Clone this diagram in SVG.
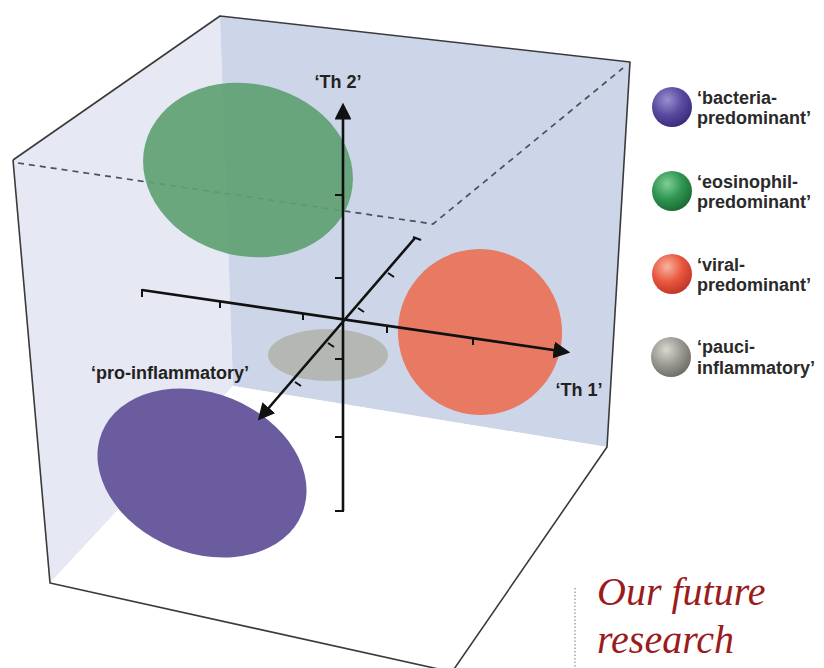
<svg xmlns="http://www.w3.org/2000/svg" width="824" height="668" viewBox="0 0 824 668">
<defs>
<style>
.edge{fill:none;stroke:#3a3a3a;stroke-width:1.6;stroke-linejoin:round}
.dash{fill:none;stroke:#4c505a;stroke-width:1.7;stroke-dasharray:6 5}
.axis{fill:none;stroke:#111;stroke-width:2.6}
.tick{fill:none;stroke:#111;stroke-width:2}
.lbl{font-family:"Liberation Sans",Arial,sans-serif;font-weight:bold;font-size:18px;fill:#222}
.leg{font-family:"Liberation Sans",Arial,sans-serif;font-weight:bold;font-size:18px;fill:#2a2a2a}
.title{font-family:"Liberation Serif","Times New Roman",serif;font-style:italic;font-size:40px;fill:#9a1c1c}
</style>
<marker id="arr" viewBox="0 0 10 10" refX="8" refY="5" markerWidth="6.5" markerHeight="6.5" markerUnits="strokeWidth" orient="auto">
<path d="M0,0 L10,5 L0,10 z" fill="#111"/>
</marker>
<radialGradient id="gPur" cx="0.38" cy="0.32" r="0.7"><stop offset="0" stop-color="#9a8fd0"/><stop offset="0.55" stop-color="#5a4aa0"/><stop offset="1" stop-color="#3a2c7a"/></radialGradient>
<radialGradient id="gGrn" cx="0.38" cy="0.32" r="0.7"><stop offset="0" stop-color="#7fcf96"/><stop offset="0.55" stop-color="#2f9650"/><stop offset="1" stop-color="#1c6a36"/></radialGradient>
<radialGradient id="gRed" cx="0.38" cy="0.32" r="0.7"><stop offset="0" stop-color="#f8b4a0"/><stop offset="0.55" stop-color="#e8573f"/><stop offset="1" stop-color="#c23628"/></radialGradient>
<radialGradient id="gGry" cx="0.38" cy="0.32" r="0.7"><stop offset="0" stop-color="#d8d7d0"/><stop offset="0.55" stop-color="#9b9a92"/><stop offset="1" stop-color="#6e6d66"/></radialGradient>
</defs>
<rect width="824" height="668" fill="#ffffff"/>

<g id="cube">
<polygon points="13,160 220,16 233,386 50,583" fill="#e6e9f3"/>
<polygon points="220,16 630,62 607,447 233,386" fill="#cdd5e8"/>
<polygon points="233,386 607,447 452,672 50,583" fill="#ffffff"/>
<polyline class="edge" points="13,160 220,16 630,62 607,447 452,672"/>
<polyline class="edge" points="13,160 50,583 452,672"/>
<polyline class="dash" points="18,163 433,224 623,68"/>
</g>

<g id="eosinophil-cluster"><ellipse cx="248" cy="170" rx="106" ry="86" transform="rotate(14 248 170)" fill="#5fa173" opacity="0.92"/></g>
<g id="viral-cluster"><ellipse cx="480" cy="332" rx="82" ry="83" transform="rotate(-15 480 332)" fill="#e87a63"/></g>
<g id="pauci-cluster"><ellipse cx="328" cy="355" rx="60" ry="26" fill="#b3b4ae" opacity="0.9"/></g>
<g id="bacteria-cluster"><ellipse cx="202" cy="473" rx="108" ry="80" transform="rotate(22 202 473)" fill="#6b5c9f"/></g>

<g id="connectors">
<line class="axis" x1="343" y1="511" x2="343" y2="106" marker-end="url(#arr)"/>
<line class="axis" x1="142" y1="290" x2="567" y2="352" marker-end="url(#arr)"/>
<line class="axis" x1="415" y1="238" x2="260" y2="418" marker-end="url(#arr)"/>
<g class="tick">
<path d="M335,195 H343 M335,278 H343 M335,359 H343 M335,437 H343 M335,511 H344"/>
<path d="M142,289 V297 M220,301 V308 M303,313 V320 M387,326 V333 M473,338 V345"/>
<path d="M413,237 L421,240 M388,273 L394,277 M358,308 L364,312 M328,343 L334,347 M295,382 L301,386"/>
</g>
</g>

<g id="axis-labels">
<text class="lbl" x="338" y="88" text-anchor="middle">‘Th 2’</text>
<text class="lbl" x="579" y="396" text-anchor="middle">‘Th 1’</text>
<text class="lbl" x="91" y="379">‘pro-inflammatory’</text>
</g>

<g id="legend-bacteria"><circle cx="672" cy="107" r="20" fill="url(#gPur)"/><text class="leg" x="697" y="104">‘bacteria-</text><text class="leg" x="697" y="124">predominant’</text></g>
<g id="legend-eosinophil"><circle cx="672" cy="191" r="20" fill="url(#gGrn)"/><text class="leg" x="697" y="188">‘eosinophil-</text><text class="leg" x="697" y="208">predominant’</text></g>
<g id="legend-viral"><circle cx="672" cy="274" r="20" fill="url(#gRed)"/><text class="leg" x="697" y="271">‘viral-</text><text class="leg" x="697" y="291">predominant’</text></g>
<g id="legend-pauci"><circle cx="671" cy="357" r="20" fill="url(#gGry)"/><text class="leg" x="697" y="353">‘pauci-</text><text class="leg" x="697" y="374">inflammatory’</text></g>

<g id="heading">
<line x1="575" y1="588" x2="575" y2="668" stroke="#777" stroke-width="1" stroke-dasharray="1.5 2"/>
<text class="title" x="597" y="605">Our future</text>
<text class="title" x="597" y="653">research</text>
</g>
</svg>
